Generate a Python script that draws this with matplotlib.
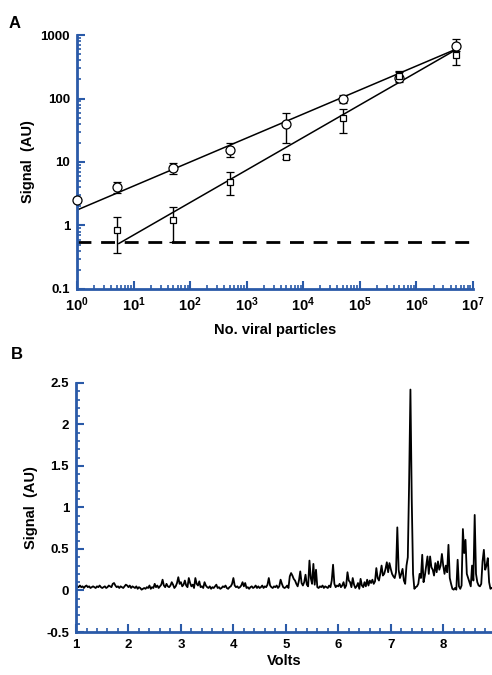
import numpy as np
import matplotlib
matplotlib.use("Agg")
import matplotlib.pyplot as plt

plt.rcParams['font.family'] = ['Liberation Sans', 'DejaVu Sans']
plt.rcParams['mathtext.fontset'] = 'custom'
plt.rcParams['mathtext.rm'] = 'Liberation Sans'
plt.rcParams['mathtext.bf'] = 'Liberation Sans:bold'

# ---------------- Panel A data ----------------
particles_circ = [1, 5, 50, 500, 5000, 5e4, 5e5, 5e6]
signal_circ = [2.5, 4.0, 8.0, 15.5, 40, 98, 210, 680]
circ_lo = [2.5, 3.3, 6.5, 12, 20, 85, 185, 560]
circ_hi = [2.5, 4.8, 9.6, 20, 59, 115, 265, 870]

particles_sq = [5, 50, 500, 5000, 5e4, 5e5, 5e6]
signal_sq = [0.85, 1.22, 4.9, 12, 50, 230, 480]
sq_lo = [0.37, 0.55, 3.0, 11, 29, 200, 335]
sq_hi = [1.36, 1.95, 6.9, 13, 69, 270, 620]

fit_circ_x = [1, 5e6]
fit_circ_y = [1.75, 600]
fit_sq_x = [5.5, 5e6]
fit_sq_y = [0.52, 590]

threshold = 0.55
xA_ticks = [1, 10, 100, 1e3, 1e4, 1e5, 1e6, 1e7]
xA_labels = [r'$\mathbf{10^{%d}}$' % k for k in range(8)]
yA_ticks = [0.1, 1, 10, 100, 1000]
yA_labels = ['0.1', '1', '10', '100', '1000']

# ---------------- Panel B data ----------------
V_START = 1.0
V_STEP = 0.025
signal_B = [
    0.03, 0.05, 0.04, 0.06, 0.04, 0.05, 0.03, 0.05, 0.06, 0.04, 0.05, 0.03, 0.04, 0.05, 0.04, 0.03, 0.05, 0.04, 0.06, 0.04,
    0.03, 0.04, 0.05, 0.03, 0.04, 0.06, 0.05, 0.04, 0.08, 0.09, 0.06, 0.04, 0.05, 0.03, 0.05, 0.04, 0.03, 0.05, 0.07, 0.06,
    0.04, 0.06, 0.03, 0.05, 0.04, 0.03, 0.05, 0.02, 0.04, 0.03, 0.01, 0.02, 0.03, 0.02, 0.04, 0.03, 0.06, 0.02, 0.04, 0.03,
    0.08, 0.04, 0.06, 0.03, 0.05, 0.07, 0.13, 0.06, 0.04, 0.08, 0.05, 0.04, 0.06, 0.10, 0.07, 0.03, 0.05, 0.09, 0.16, 0.08,
    0.10, 0.05, 0.07, 0.12, 0.06, 0.04, 0.15, 0.09, 0.05, 0.07, 0.03, 0.15, 0.08, 0.06, 0.11, 0.04, 0.05, 0.03, 0.10, 0.06,
    0.04, 0.03, 0.05, 0.02, 0.04, 0.03, 0.05, 0.07, 0.03, 0.04, 0.02, 0.03, 0.05, 0.04, 0.06, 0.03, 0.02, 0.04, 0.05, 0.08,
    0.15, 0.06, 0.04, 0.05, 0.03, 0.04, 0.06, 0.10, 0.05, 0.09, 0.03, 0.04, 0.02, 0.04, 0.05, 0.03, 0.04, 0.06, 0.03, 0.05,
    0.03, 0.04, 0.06, 0.03, 0.05, 0.04, 0.07, 0.15, 0.06, 0.04, 0.03, 0.05, 0.04, 0.06, 0.03, 0.05, 0.13, 0.08, 0.04, 0.03,
    0.04, 0.06, 0.03, 0.17, 0.21, 0.18, 0.14, 0.12, 0.08, 0.05, 0.12, 0.23, 0.09, 0.06, 0.10, 0.19, 0.07, 0.05, 0.36, 0.15,
    0.08, 0.32, 0.07, 0.25, 0.04, 0.03, 0.05, 0.04, 0.06, 0.03, 0.05, 0.04, 0.03, 0.06, 0.04, 0.12, 0.31, 0.08, 0.04, 0.06,
    0.05, 0.08, 0.04, 0.06, 0.10, 0.03, 0.06, 0.22, 0.12, 0.10, 0.04, 0.15, 0.07, 0.03, 0.05, 0.09, 0.02, 0.14, 0.06, 0.04,
    0.10, 0.05, 0.13, 0.06, 0.12, 0.09, 0.13, 0.08, 0.11, 0.27, 0.15, 0.12, 0.20, 0.30, 0.18, 0.20, 0.26, 0.34, 0.22, 0.33,
    0.26, 0.20, 0.17, 0.15, 0.22, 0.76, 0.25, 0.15, 0.20, 0.26, 0.12, 0.08, 0.30, 0.40, 1.30, 2.42, 1.10, 0.20, 0.02, 0.04,
    0.05, 0.08, 0.20, 0.15, 0.43, 0.10, 0.18, 0.30, 0.41, 0.20, 0.41, 0.28, 0.25, 0.18, 0.33, 0.22, 0.35, 0.25, 0.30, 0.44,
    0.30, 0.20, 0.30, 0.22, 0.55, 0.15, 0.08, 0.02, 0.01, 0.03, 0.01, 0.37, 0.05, 0.02, 0.06, 0.74, 0.45, 0.61, 0.20, 0.15,
    0.10, 0.05, 0.30, 0.12, 0.91, 0.20, 0.10, 0.06, 0.05, 0.08, 0.35, 0.49, 0.25, 0.30, 0.39, 0.10, 0.02, 0.03,
]
volts = V_START + V_STEP * np.arange(len(signal_B))
xB_ticks = [1, 2, 3, 4, 5, 6, 7, 8]
yB_ticks = [-0.5, 0, 0.5, 1, 1.5, 2, 2.5]
yB_labels = ['-0.5', '0', '0.5', '1', '1.5', '2', '2.5']

BLUE = '#2a5aa8'

fig = plt.figure(figsize=(4.92, 6.75), dpi=100)

def style_axes(ax, labelsize):
    for s in ['top', 'right']:
        ax.spines[s].set_visible(False)
    for s in ['left', 'bottom']:
        ax.spines[s].set_color(BLUE)
        ax.spines[s].set_linewidth(2.0)
    ax.tick_params(which='major', direction='in', color=BLUE, width=1.5, length=6,
                   labelsize=labelsize, pad=5)
    ax.tick_params(which='minor', direction='in', color=BLUE, width=1.2, length=3)
    for lab in ax.get_xticklabels() + ax.get_yticklabels():
        lab.set_fontweight('bold')

# Panel A
axA = fig.add_axes([0.1565, 0.572, 0.805, 0.376])
axA.set_xscale('log')
axA.set_yscale('log')
axA.set_xlim(1, 1e7)
axA.set_ylim(0.1, 1000)

c = np.array(signal_circ)
axA.errorbar(particles_circ, signal_circ,
             yerr=[c - np.array(circ_lo), np.array(circ_hi) - c],
             fmt='o', mfc='white', mec='black', mew=0.9, ms=6.5, ecolor='black',
             elinewidth=1.0, capsize=3, capthick=1.0, zorder=3, clip_on=False)
s = np.array(signal_sq)
axA.errorbar(particles_sq, signal_sq,
             yerr=[s - np.array(sq_lo), np.array(sq_hi) - s],
             fmt='s', mfc='white', mec='black', mew=0.9, ms=5, ecolor='black',
             elinewidth=1.0, capsize=3, capthick=1.0, zorder=3)
axA.plot(fit_circ_x, fit_circ_y, color='black', lw=1.1, zorder=2)
axA.plot(fit_sq_x, fit_sq_y, color='black', lw=1.1, zorder=2)
axA.axhline(threshold, color='black', lw=2.0, dashes=(5, 3.5), zorder=1)

axA.set_xticks(xA_ticks)
axA.set_xticklabels(xA_labels)
axA.set_yticks(yA_ticks)
axA.set_yticklabels(yA_labels)
style_axes(axA, 9.5)
axA.tick_params(axis='x', labelsize=10.5)
axA.set_xlabel('No. viral particles', fontsize=10.5, fontweight='bold', labelpad=6)
axA.set_ylabel('Signal  (AU)', fontsize=10.5, fontweight='bold', labelpad=4)

# Panel B
axB = fig.add_axes([0.1545, 0.0637, 0.8455, 0.369])
axB.plot(volts, signal_B, color='black', lw=1.3)
axB.set_xlim(1, 8.93)
axB.set_ylim(-0.5, 2.5)
axB.set_xticks(xB_ticks)
axB.set_yticks(yB_ticks)
axB.set_yticklabels(yB_labels)
axB.xaxis.set_minor_locator(matplotlib.ticker.MultipleLocator(0.2))
axB.yaxis.set_minor_locator(matplotlib.ticker.MultipleLocator(0.1))
style_axes(axB, 9.5)
axB.set_xlabel('Volts', fontsize=10.5, fontweight='bold', labelpad=2)
axB.set_ylabel('Signal  (AU)', fontsize=10.5, fontweight='bold', labelpad=6)

fig.text(0.018, 0.965, 'A', fontsize=12, fontweight='bold',
         family=['Liberation Sans Narrow', 'Liberation Sans'], va='center')
fig.text(0.022, 0.475, 'B', fontsize=12, fontweight='bold',
         family=['Liberation Sans Narrow', 'Liberation Sans'], va='center')

fig.savefig('out.png', dpi=100)
